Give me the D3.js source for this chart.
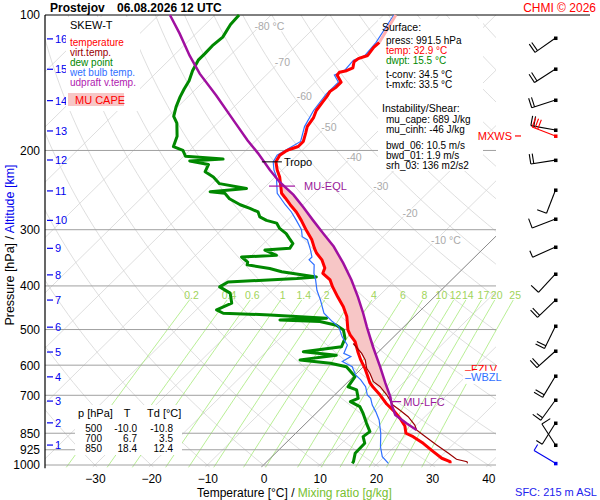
<!DOCTYPE html>
<html>
<head>
<meta charset="utf-8">
<title>SKEW-T Prostejov</title>
<script src="https://cdn.jsdelivr.net/npm/d3@7"></script>
<style>
  body { margin: 0; background: #fff; }
  svg text { font-family: "Liberation Sans", Arial, sans-serif; }
</style>
</head>
<body>
<div id="chart"></div>
<script>
// ---------------- data ----------------
const pressureLabels = [100, 200, 300, 400, 500, 600, 700, 850, 925, 1000];
const tempTicks = [-30, -20, -10, 0, 10, 20, 30, 40];
const kmLabels = [1, 2, 3, 4, 5, 6, 7, 8, 9, 10, 11, 12, 13, 14, 15, 16];
const kmPressure = [903, 806, 721, 637, 561, 494, 430, 378, 330, 286, 246, 210, 181, 155, 132, 113];
const isoLabelT = [-80, -70, -60, -50, -40, -30, -20, -10];
const isoLabelP = [106, 127, 151, 177, 207, 240, 275, 316];
const isoLabelText = ["-80 °C", "-70", "-60", "-50", "-40", "-30", "-20", "-10 °C"];
const mixRatios = [0.2, 0.4, 0.6, 1, 1.4, 2, 3, 4, 6, 8, 10, 12, 14, 17, 20, 25];

// [pressure hPa, value °C]
const temperature = [[991.5,32.9],[983,32.6],[966,30.5],[934,27.8],[895,24.5],[865,21.5],[850,19.6],
  [819,18.1],[788,15.9],[757,13.3],[732,10.9],[699,8.1],[670,5.3],[657,4.1],[631,2.2],[609,0.5],
  [584,-1.7],[560,-3.7],[532,-6.0],[514,-8.1],[501,-9.4],[468,-12.0],[445,-14.4],[423,-17.2],
  [402,-19.9],[388,-21.6],[375,-24.1],[365,-24.7],[350,-26.7],[338,-28.9],[330,-30.1],[316,-32.1],
  [301,-34.8],[286,-37.5],[274,-39.9],[264,-42.3],[255,-44.4],[249,-45.9],[229,-49.2],[221,-50.9],
  [212,-52.6],[205,-53.1],[201,-52.8],[199,-52.4],[196,-51.4],[191,-51.4],[183,-52.5],[177,-53.4],
  [169,-53.9],[163,-54.7],[156,-55.1],[151,-55.4],[148,-55.7],[145,-55.4],[141,-55.4],[136,-57.4],
  [134,-57.5],[133,-56.5],[131,-55.9],[127,-56.8],[125,-56.6],[123,-55.5],[118,-55.9],[115,-55.8],
  [100,-57.8]];

const virtTemp = [[991.5,36.0],[983,35.6],[971,33.3],[942,30.8],[903,27.2],[858,23.0],[836,20.9],
  [815,19.7],[781,17.0],[755,14.3],[736,12.2],[699,9.3],[670,6.6],[653,4.5],[626,2.4],[610,0.9],
  [584,-0.9],[565,-2.7],[537,-6.0]];

const dewPoint = [[991.5,15.5],[983,15.4],[942,14.2],[895,14.1],[865,12.6],[843,12.9],[808,10.8],
  [768,8.4],[742,6.6],[723,4.0],[711,4.8],[681,3.0],[670,0.9],[636,0.3],[605,-3.0],[594,-6.5],
  [584,-12.5],[570,-6.9],[560,-13.4],[546,-7.5],[523,-8.4],[501,-10.2],[489,-12.3],[480,-15.9],
  [476,-23.3],[472,-15.3],[464,-26.0],[460,-34.6],[452,-36.4],[437,-34.9],[415,-37.0],[402,-40.0],
  [392,-39.4],[385,-27.8],[382,-24.6],[372,-31.7],[366,-34.4],[359,-39.1],[354,-39.5],[345,-41.5],
  [342,-35.6],[333,-38.6],[330,-34.5],[322,-34.8],[314,-36.3],[306,-37.8],[298,-39.9],[290,-41.4],
  [286,-43.7],[281,-45.5],[274,-46.7],[269,-48.8],[264,-51.2],[256,-54.2],[249,-56.0],[247,-58.9],
  [243,-53.0],[237,-58.7],[229,-61.0],[223,-63.4],[215,-64.1],[211,-68.1],[209,-62.5],[206,-69.7],
  [200,-71.2],[196,-73.6],[186,-74.8],[174,-77.2],[168,-79.0],[160,-80.3],[152,-81.4],[146,-82.1],
  [140,-82.7],[133,-83.9],[126,-84.8],[122,-84.8],[117,-84.9],[112,-84.6],[105,-85.5],[100,-85.7]];

const wetBulb = [[991.5,22.1],[958,19.8],[911,17.7],[850,15.3],[794,12.6],[761,10.5],[736,8.7],
  [711,7.2],[699,6.0],[670,4.2],[647,2.1],[631,0.3],[605,-1.8],[589,-4.5],[574,-3.9],[565,-5.7],
  [541,-6.6],[519,-9.0],[493,-11.4],[480,-13.5],[460,-16.5],[430,-19.5],[409,-21.9],[388,-24.0],
  [375,-25.5],[359,-27.0],[350,-28.8],[345,-28.8],[333,-30.3],[316,-32.7],[311,-34.2],[300,-35.6],
  [286,-38.2],[274,-40.6],[264,-43.0],[249,-46.5],[229,-49.6],[221,-51.3],[212,-52.9],[205,-53.4],
  [199,-52.7],[191,-51.7],[177,-53.7],[163,-55.0],[150,-55.7],[141,-55.7],[136,-57.7],[133,-56.7],
  [126,-57.0],[123,-55.8],[115,-56.2],[100,-58.0]];

const parcel = [[836,20.9],[808,17.9],[774,14.4],[736,12.0],[705,10.2],[658,6.9],[605,3.0],
  [546,-1.9],[493,-6.6],[460,-9.7],[423,-13.6],[388,-17.8],[356,-22.3],[327,-27.0],[306,-31.2],
  [286,-35.4],[267,-39.6],[251,-43.5],[235,-48.3],[221,-52.2],[203,-57.3],[190,-61.5],[173,-67.1],
  [151,-75.2],[135,-82.1],[123,-87.2],[110,-92.9],[100,-98.0]];

const lfcP = 723, eqlP = 240, tropoP = 212, fzlvP = 608, wbzlP = 637;

const windP = [112.5, 131.8, 154.5, 180.1, 185.7, 210.1, 244.8, 284, 327.8, 376.3, 430, 491.1,
  558, 634.1, 717, 806.7, 902.8, 991.5];
const windDir = [235, 237, 252, 280, 291, 261, 201, 249, 246, 223, 226, 206, 228, 211, 216, 212, 327, 301];
const windSpd = [20, 20, 20, 20, 30, 20, 10, 10, 5, 10, 20, 20, 20, 20, 15, 5, 10, 5];
const windColor = ["#000", "#000", "#000", "#000", "#f00", "#000", "#000", "#000", "#000", "#000",
  "#000", "#000", "#000", "#000", "#000", "#000", "#000", "#0000ee"];

const surfaceInfo = ["press: 991.5 hPa", "temp: 32.9 °C", "dwpt: 15.5 °C", "t-conv: 34.5 °C", "t-mxfc: 33.5 °C"];
const instabInfo = ["mu_cape: 689 J/kg", "mu_cinh: -46 J/kg", "bwd_06: 10.5 m/s", "bwd_01: 1.9 m/s", "srh_03: 136 m2/s2"];
const tableP = ["500", "700", "850"];
const tableT = ["-10.0", "6.7", "18.4"];
const tableTd = ["-10.8", "3.5", "12.4"];

// ---------------- scales ----------------
const pBot = 1012;
const y = d3.scaleLog().domain([1000, 100]).range([465, 15]);
const xT = d3.scaleLinear().domain([0, 40]).range([263.5, 488.3]);
const skew = 1.016;
const plotL = 45, plotR = 496, plotT = 15, plotB = y(pBot);

function sx(T, p) {
    return xT(T) + skew * (y(1000) - y(p));
}

function mixTd(w, p) {
    let e = w * p / (622 + w);
    let l = Math.log(e / 6.112);
    return 243.5 * l / (17.67 - l);
}

// interpolate a [p, T] profile at pressure p (linear in log p)
function interp(profile, p) {
    let s = profile.slice().sort((a, b) => b[0] - a[0]);
    for (let i = 0; i < s.length - 1; i++) {
        if (p <= s[i][0] && p >= s[i + 1][0]) {
            let f = (Math.log(s[i][0]) - Math.log(p)) / (Math.log(s[i][0]) - Math.log(s[i + 1][0]));
            return s[i][1] + f * (s[i + 1][1] - s[i][1]);
        }
    }
    return s[s.length - 1][1];
}

const line = d3.line()
    .x(function (d) { return sx(d[1], d[0]); })
    .y(function (d) { return y(d[0]); });

const svg = d3.select("#chart").append("svg")
    .attr("width", 600)
    .attr("height", 500);

svg.append("defs").append("clipPath").attr("id", "plot")
    .append("rect").attr("x", plotL).attr("y", plotT)
    .attr("width", plotR - plotL).attr("height", plotB - plotT);

// ---------------- grid ----------------
let grid = svg.append("g").attr("clip-path", "url(#plot)");

d3.range(-120, 60, 10).forEach(function (T) {
    grid.append("path")
        .attr("d", line([[pBot, T], [100, T]]))
        .attr("fill", "none").attr("stroke", "#d6d6d6").attr("stroke-width", 0.8);
});

const adiabatP = d3.range(0, 81).map(function (i) { return pBot * Math.pow(100 / pBot, i / 80); });
d3.range(-50, 200, 10).forEach(function (th) {
    let pts = adiabatP.map(function (p) { return [p, (th + 273.15) * Math.pow(p / 1000, 0.2857) - 273.15]; });
    grid.append("path")
        .attr("d", line(pts))
        .attr("fill", "none").attr("stroke", "#d6d6d6").attr("stroke-width", 0.8);
});

// mixing ratio lines
const mixP = d3.range(0, 21).map(function (i) { return 430 * Math.pow(pBot / 430, i / 20); });
mixRatios.forEach(function (w) {
    let pts = mixP.map(function (p) { return [p, mixTd(w, p)]; });
    svg.append("path")
        .attr("d", line(pts))
        .attr("fill", "none").attr("stroke", "#a6ea78").attr("stroke-width", 0.8);
    svg.append("text")
        .attr("x", sx(mixTd(w, 430), 430) + 2)
        .attr("y", y(430) - 1)
        .attr("text-anchor", "middle")
        .attr("font-size", 10.5)
        .attr("fill", "#9fd45a")
        .text(w);
});

// 0 °C isotherm
svg.append("path")
    .attr("clip-path", "url(#plot)")
    .attr("d", line([[pBot, 0], [100, 0]]))
    .attr("fill", "none").attr("stroke", "#777").attr("stroke-width", 0.8);

// isotherm labels
isoLabelT.forEach(function (T, i) {
    svg.append("text")
        .attr("x", sx(T, isoLabelP[i]) - 5)
        .attr("y", y(isoLabelP[i]) + 4)
        .attr("font-size", 10.5)
        .attr("fill", "#aaa")
        .attr("stroke", "#fff").attr("stroke-width", 3).attr("paint-order", "stroke")
        .text(isoLabelText[i]);
});

// isobars
pressureLabels.slice(1).forEach(function (p) {
    svg.append("line")
        .attr("x1", plotL).attr("x2", plotR)
        .attr("y1", y(p)).attr("y2", y(p))
        .attr("stroke", "#a0a0a0").attr("stroke-width", 1);
});
svg.append("line").attr("x1", plotL).attr("x2", 590).attr("y1", y(100)).attr("y2", y(100))
    .attr("stroke", "#000").attr("stroke-width", 1);

// pressure axis
let yAxis = d3.axisLeft(y).tickValues(pressureLabels).tickFormat(d3.format("d")).tickSize(0).tickPadding(5);
let ya = svg.append("g").attr("transform", "translate(" + plotL + ",0)").call(yAxis);
ya.select(".domain").remove();
ya.selectAll("text").attr("font-size", 12).attr("fill", "#000").attr("font-family", "Liberation Sans, Arial");
svg.append("line").attr("x1", plotL).attr("x2", plotL).attr("y1", plotT).attr("y2", plotB + 1)
    .attr("stroke", "#000").attr("stroke-width", 1.2);

// temperature axis
let xAxis = d3.axisBottom(xT).tickValues(tempTicks).tickSize(0).tickPadding(3);
let xa = svg.append("g").attr("transform", "translate(0,471)").call(xAxis);
xa.select(".domain").remove();
xa.selectAll("text").attr("font-size", 12).attr("fill", "#000").attr("font-family", "Liberation Sans, Arial");

// km ticks
kmLabels.forEach(function (k, i) {
    let yy = y(kmPressure[i]);
    svg.append("line").attr("x1", 47).attr("x2", 53).attr("y1", yy).attr("y2", yy)
        .attr("stroke", "#0000ee").attr("stroke-width", 1.2);
    svg.append("text").attr("x", 55).attr("y", yy + 4)
        .attr("font-size", 11).attr("fill", "#0000ee").text(k);
});

// ---------------- boxes ----------------
svg.append("rect").attr("x", 66).attr("y", 17).attr("width", 74).attr("height", 94).attr("fill", "#fff");
svg.append("rect").attr("x", 378).attr("y", 19).attr("width", 105).attr("height", 152).attr("fill", "#fff");
svg.append("rect").attr("x", 75).attr("y", 405).attr("width", 107).attr("height", 50).attr("fill", "#fff");

// ---------------- CAPE ----------------
const envProfile = virtTemp.concat(temperature.filter(function (d) { return d[0] < 537; }));
const capeP = d3.range(0, 61).map(function (i) { return lfcP * Math.pow(eqlP / lfcP, i / 60); });
const capePoly = capeP.map(function (p) { return [p, interp(parcel, p)]; })
    .concat(capeP.slice().reverse().map(function (p) { return [p, interp(envProfile, p)]; }));
svg.append("path")
    .attr("d", line(capePoly) + "Z")
    .attr("fill", "#f7c6c6").attr("stroke", "none");

// ---------------- profiles ----------------
svg.append("path").datum(dewPoint).attr("d", line)
    .attr("fill", "none").attr("stroke", "#008800").attr("stroke-width", 3).attr("stroke-linejoin", "round");
svg.append("path").datum(wetBulb).attr("d", line).attr("transform", "translate(-1,0)")
    .attr("fill", "none").attr("stroke", "#2f6fff").attr("stroke-width", 1.2);
svg.append("path").datum(temperature.filter(function (d) { return d[0] >= 115; })).attr("d", line)
    .attr("fill", "none").attr("stroke", "#ff0000").attr("stroke-width", 3).attr("stroke-linejoin", "round");
svg.append("path").datum(temperature.filter(function (d) { return d[0] <= 115; })).attr("d", line)
    .attr("fill", "none").attr("stroke", "#ffb0b0").attr("stroke-width", 3);
svg.append("path").datum(virtTemp).attr("d", line)
    .attr("fill", "none").attr("stroke", "#990000").attr("stroke-width", 1.2);
svg.append("path").datum(parcel).attr("d", line)
    .attr("fill", "none").attr("stroke", "#a010a0").attr("stroke-width", 2.5);

// ---------------- level markers ----------------
let tx = sx(interp(temperature, tropoP), tropoP);
svg.append("line").attr("x1", tx - 14).attr("x2", tx + 6).attr("y1", y(tropoP)).attr("y2", y(tropoP))
    .attr("stroke", "#000").attr("stroke-width", 1);
svg.append("text").attr("x", tx + 8).attr("y", y(tropoP) + 4).attr("font-size", 11).attr("fill", "#000").text("Tropo");

let ex = sx(interp(parcel, eqlP), eqlP);
svg.append("line").attr("x1", ex - 15).attr("x2", ex + 11).attr("y1", y(eqlP)).attr("y2", y(eqlP))
    .attr("stroke", "#a010a0").attr("stroke-width", 1.2);
svg.append("text").attr("x", ex + 20).attr("y", y(eqlP) + 4).attr("font-size", 11).attr("fill", "#9a1a9a").text("MU-EQL");

let lx = sx(interp(parcel, lfcP), lfcP);
svg.append("line").attr("x1", lx).attr("x2", lx + 10).attr("y1", y(lfcP)).attr("y2", y(lfcP))
    .attr("stroke", "#a010a0").attr("stroke-width", 1.2);
svg.append("text").attr("x", lx + 12).attr("y", y(lfcP) + 4).attr("font-size", 11).attr("fill", "#9a1a9a").text("MU-LFC");

svg.append("text").attr("x", 465).attr("y", y(fzlvP) + 5).attr("font-size", 11).attr("fill", "#f00").text("\u2013FZLV");
svg.append("rect").attr("x", 463).attr("y", y(wbzlP) - 6).attr("width", 46).attr("height", 13).attr("fill", "#fff");
svg.append("text").attr("x", 465).attr("y", y(wbzlP) + 4).attr("font-size", 11).attr("fill", "#2f6fff").text("\u2013WBZL");

// ---------------- wind barbs ----------------
function drawBarb(ay, dir, spd, color) {
    let ax = 555.5;
    let r = dir * Math.PI / 180;
    let ux = Math.sin(r), uy = -Math.cos(r);
    let L = 25;
    let ex = ax + L * ux, ey = ay + L * uy;
    let fx = -uy, fy = ux;
    let g = svg.append("g").attr("stroke", color).attr("stroke-width", 1.1).attr("fill", "none");
    g.append("line").attr("x1", ax).attr("y1", ay).attr("x2", ex).attr("y2", ey);
    svg.append("rect").attr("x", ax - 1.5).attr("y", ay - 1.5).attr("width", 3.5).attr("height", 3.5).attr("fill", color);
    let s = spd, pos = 0, step = 3;
    while (s >= 50) {
        let bx = ex - pos * ux, by = ey - pos * uy;
        let cx = ex - (pos + 5) * ux, cy = ey - (pos + 5) * uy;
        g.append("path").attr("d", "M" + bx + "," + by + "L" + (bx + 10 * fx) + "," + (by + 10 * fy) + "L" + cx + "," + cy + "Z")
            .attr("fill", color);
        s -= 50; pos += 7;
    }
    while (s >= 10) {
        let bx = ex - pos * ux, by = ey - pos * uy;
        g.append("line").attr("x1", bx).attr("y1", by).attr("x2", bx + 10 * fx).attr("y2", by + 10 * fy);
        s -= 10; pos += step;
    }
    if (s >= 5) {
        let bx = ex - pos * ux, by = ey - pos * uy;
        g.append("line").attr("x1", bx).attr("y1", by).attr("x2", bx + 7 * fx).attr("y2", by + 7 * fy);
    }
}
windP.forEach(function (p, i) {
    drawBarb(y(p), windDir[i], windSpd[i], windColor[i]);
});
svg.append("text").attr("x", 512).attr("y", y(windP[4]) + 4).attr("text-anchor", "end")
    .attr("font-size", 11).attr("fill", "#f00").text("MXWS");
svg.append("line").attr("x1", 515).attr("x2", 521).attr("y1", y(windP[4])).attr("y2", y(windP[4]))
    .attr("stroke", "#f00").attr("stroke-width", 1.2);

// ---------------- texts ----------------
svg.append("text").attr("x", 50).attr("y", 12).attr("font-size", 12).attr("font-weight", "bold")
    .text("Prostejov");
svg.append("text").attr("x", 117).attr("y", 12).attr("font-size", 12).attr("font-weight", "bold")
    .text("06.08.2026 12 UTC");
svg.append("text").attr("x", 596).attr("y", 12).attr("text-anchor", "end").attr("font-size", 12)
    .attr("fill", "#f00").text("CHMI © 2026");

// legend
svg.append("text").attr("x", 70).attr("y", 29).attr("font-size", 11).text("SKEW-T");
const legendText = ["temperature", "virt.temp.", "dew point", "wet bulb temp.", "udpraft v.temp."];
const legendColor = ["#f00", "#990000", "#008800", "#2f6fff", "#b020b0"];
legendText.forEach(function (t, i) {
    svg.append("text").attr("x", 70).attr("y", 45.5 + i * 10).attr("font-size", 10)
        .attr("fill", legendColor[i]).text(t);
});
svg.append("rect").attr("x", 68).attr("y", 93).attr("width", 56).attr("height", 13).attr("fill", "#f7c6c6");
svg.append("text").attr("x", 75).attr("y", 104).attr("font-size", 11).attr("fill", "#f00").text("MU CAPE");

// info panel
svg.append("text").attr("x", 382).attr("y", 31).attr("font-size", 10.5).text("Surface:");
const surfColor = ["#000", "#f00", "#008800", "#000", "#000"];
const surfY = [44, 54, 64, 78, 88];
surfaceInfo.forEach(function (t, i) {
    svg.append("text").attr("x", 386).attr("y", surfY[i]).attr("font-size", 10).attr("fill", surfColor[i]).text(t);
});
svg.append("text").attr("x", 382).attr("y", 112).attr("font-size", 10.5).text("Instability/Shear:");
const instY = [123, 133, 149, 159, 169];
instabInfo.forEach(function (t, i) {
    svg.append("text").attr("x", 386).attr("y", instY[i]).attr("font-size", 10).text(t);
});

// table
svg.append("text").attr("x", 78).attr("y", 417).attr("font-size", 11).text("p [hPa]");
svg.append("text").attr("x", 127).attr("y", 417).attr("font-size", 11).attr("text-anchor", "middle").text("T");
svg.append("text").attr("x", 147).attr("y", 417).attr("font-size", 11).text("Td [°C]");
tableP.forEach(function (p, i) {
    let yy = 432 + i * 10;
    svg.append("text").attr("x", 102).attr("y", yy).attr("font-size", 10).attr("text-anchor", "end").text(p);
    svg.append("text").attr("x", 137).attr("y", yy).attr("font-size", 10).attr("text-anchor", "end").text(tableT[i]);
    svg.append("text").attr("x", 173).attr("y", yy).attr("font-size", 10).attr("text-anchor", "end").text(tableTd[i]);
});

// axis titles
let xt = svg.append("text").attr("x", 197).attr("y", 497).attr("font-size", 12);
xt.append("tspan").attr("fill", "#000").text("Temperature [°C]  /  ");
xt.append("tspan").attr("fill", "#77c030").text("Mixing ratio [g/kg]");

let yt = svg.append("text").attr("transform", "translate(14,245) rotate(-90)")
    .attr("text-anchor", "middle").attr("font-size", 12.5);
yt.append("tspan").attr("fill", "#000").text("Pressure [hPa]  /  ");
yt.append("tspan").attr("fill", "#0000ee").text("Altitude [km]");

svg.append("text").attr("x", 597).attr("y", 496).attr("text-anchor", "end").attr("font-size", 11)
    .attr("fill", "#2222ee").text("SFC: 215 m ASL");
</script>
</body>
</html>
